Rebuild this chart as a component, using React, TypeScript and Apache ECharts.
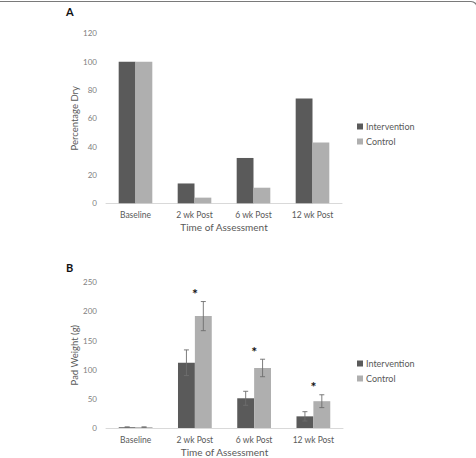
import React, { useEffect, useRef } from "react";
import * as echarts from "echarts";

// Time points shared by both panels
const categories = ["Baseline", "2 wk Post", "6 wk Post", "12 wk Post"];

// Panel A: percentage of participants dry
const dryIntervention = [100, 14, 32, 74];
const dryControl = [100, 4, 11, 43];
const dryTicks = { min: 0, max: 120, interval: 20 };

// Panel B: pad weight (g), mean and error
const padIntervention = [1.5, 112, 51, 20];
const padControl = [1.5, 192, 103, 46];
const padInterventionErr = [0.4, 22, 12, 8];
const padControlErr = [0.4, 25, 15, 11];
const padTicks = { min: 0, max: 250, interval: 50 };

// Time points with a significant group difference
const significant = [false, true, true, true];

const DARK = "#5a5a5a";
const LIGHT = "#afafaf";
const TEXT = "#595959";
const TICK = "#808080";
const FONT = "Lato, 'Open Sans', sans-serif";
const GAP = "43%";
// half of a bar's share of the category band, used to centre error bars
const BAR_OFFSET = (1 - 0.43) / 4;

function errorBarSeries(
  name: string,
  values: number[],
  errors: number[],
  side: number
) {
  return {
    type: "custom",
    name: name + " error",
    xAxisIndex: 1,
    yAxisIndex: 1,
    z: 5,
    silent: true,
    encode: { x: 0, y: 1 },
    data: values.map((v, i) => [i, v, errors[i]]),
    renderItem: (_params: any, api: any) => {
      const idx = api.value(0);
      const v = api.value(1);
      const e = api.value(2);
      const catW = api.size([1, 0])[0];
      const top = api.coord([idx, v + e]);
      const bot = api.coord([idx, v - e]);
      const x = top[0] + side * catW * BAR_OFFSET;
      const cap = 2.5;
      const style = { stroke: "#6e6e6e", lineWidth: 0.9 };
      return {
        type: "group",
        children: [
          { type: "line", shape: { x1: x, y1: top[1], x2: x, y2: bot[1] }, style },
          { type: "line", shape: { x1: x - cap, y1: top[1], x2: x + cap, y2: top[1] }, style },
          { type: "line", shape: { x1: x - cap, y1: bot[1], x2: x + cap, y2: bot[1] }, style },
        ],
      };
    },
  };
}

export default function App() {
  const ref = useRef<HTMLDivElement>(null);

  useEffect(() => {
    if (!ref.current) return;
    const chart = echarts.init(ref.current, null, { renderer: "svg" });

    const xAxisBase = {
      type: "category",
      data: categories,
      axisLine: { lineStyle: { color: "#d9d9d9", width: 1 } },
      axisTick: { show: false },
      axisLabel: { color: TEXT, fontSize: 8.5, fontFamily: FONT, margin: 7 },
      name: "Time of Assessment",
      nameLocation: "middle",
      nameGap: 19,
      nameTextStyle: { color: TEXT, fontSize: 10, fontFamily: FONT },
    };
    const yAxisBase = {
      type: "value",
      axisLine: { show: false },
      axisTick: { show: false },
      splitLine: { show: false },
      axisLabel: { color: TICK, fontSize: 8, fontFamily: FONT, margin: 9 },
      nameLocation: "middle",
      nameTextStyle: { color: TEXT, fontSize: 9.5, fontFamily: FONT },
    };

    const legendBase = {
      orient: "vertical",
      left: 352,
      itemWidth: 6,
      itemHeight: 6,
      itemGap: 6,
      icon: "rect",
      textStyle: { color: TEXT, fontSize: 9, fontFamily: FONT, padding: [0, 0, 0, -2] },
      data: ["Intervention", "Control"],
    };

    const asteriskData = categories
      .map((_, i) => [i, padControl[i] + padControlErr[i]])
      .filter((_, i) => significant[i]);

    chart.setOption({
      animation: false,
      backgroundColor: "#ffffff",
      grid: [
        { left: 106, right: 134, top: 33.3, bottom: 254.7 },
        { left: 106, right: 133, top: 282.3, bottom: 28.7 },
      ],
      xAxis: [
        { ...xAxisBase, gridIndex: 0 },
        { ...xAxisBase, gridIndex: 1 },
      ],
      yAxis: [
        { ...yAxisBase, gridIndex: 0, ...dryTicks, name: "Percentage Dry", nameGap: 26 },
        { ...yAxisBase, gridIndex: 1, ...padTicks, name: "Pad Weight (g)", nameGap: 25 },
      ],
      legend: [
        { ...legendBase, top: 117 },
        { ...legendBase, top: 354 },
      ],
      graphic: [
        {
          type: "rect",
          shape: { x: -10, y: 1.5, width: 487, height: 600, r: 6 },
          style: { fill: "none", stroke: "#7a7a7a", lineWidth: 1.2 },
          silent: true,
        },
        {
          type: "text",
          left: 66,
          top: 6,
          style: { text: "A", font: `bold 11px ${FONT}`, fill: "#111" },
        },
        {
          type: "text",
          left: 66,
          top: 262,
          style: { text: "B", font: `bold 11px ${FONT}`, fill: "#111" },
        },
      ],
      series: [
        {
          type: "bar",
          name: "Intervention",
          xAxisIndex: 0,
          yAxisIndex: 0,
          data: dryIntervention,
          itemStyle: { color: DARK },
          barGap: "0%",
          barCategoryGap: GAP,
        },
        {
          type: "bar",
          name: "Control",
          xAxisIndex: 0,
          yAxisIndex: 0,
          data: dryControl,
          itemStyle: { color: LIGHT },
          barGap: "0%",
          barCategoryGap: GAP,
        },
        {
          type: "bar",
          name: "Intervention",
          xAxisIndex: 1,
          yAxisIndex: 1,
          data: padIntervention,
          itemStyle: { color: DARK },
          barGap: "0%",
          barCategoryGap: GAP,
        },
        {
          type: "bar",
          name: "Control",
          xAxisIndex: 1,
          yAxisIndex: 1,
          data: padControl,
          itemStyle: { color: LIGHT },
          barGap: "0%",
          barCategoryGap: GAP,
        },
        errorBarSeries("Intervention", padIntervention, padInterventionErr, -1),
        errorBarSeries("Control", padControl, padControlErr, 1),
        {
          type: "custom",
          name: "significance",
          xAxisIndex: 1,
          yAxisIndex: 1,
          silent: true,
          z: 6,
          encode: { x: 0, y: 1 },
          data: asteriskData,
          renderItem: (_params: any, api: any) => {
            const p = api.coord([api.value(0), api.value(1)]);
            return {
              type: "text",
              x: p[0],
              y: p[1] - 8,
              style: {
                text: "*",
                font: `bold 14px ${FONT}`,
                fill: "#111",
                align: "center",
                verticalAlign: "middle",
              },
            };
          },
        },
      ],
    });

    return () => chart.dispose();
  }, []);

  return (
    <div
      ref={ref}
      style={{ position: "fixed", left: 0, top: 0, width: 476, height: 458 }}
    />
  );
}
